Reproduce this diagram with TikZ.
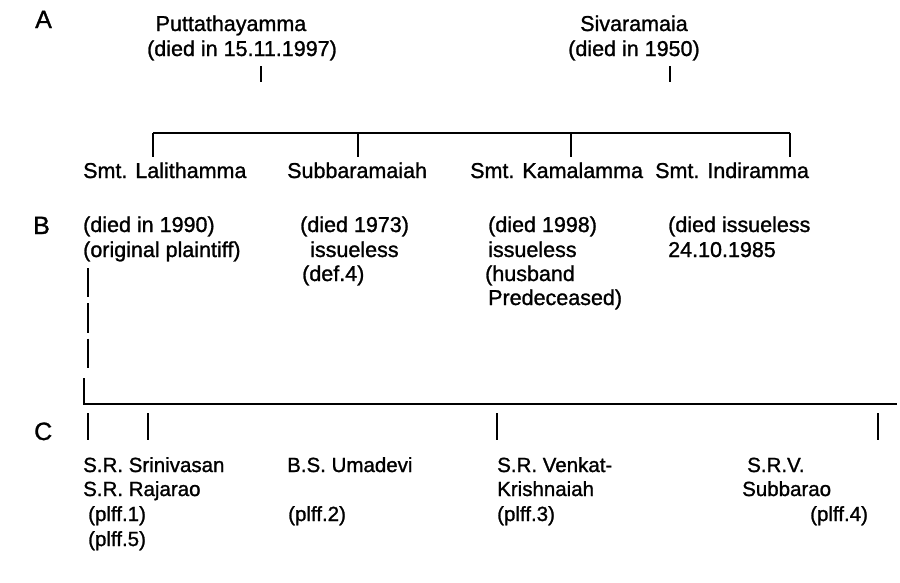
\documentclass[tikz,border=0pt]{standalone}
\usepackage{fontspec}
\setmainfont{Liberation Sans}[FakeBold=1.2]
\begin{document}
\begin{tikzpicture}[x=1pt,y=-1pt,
  lbl/.style={inner sep=0pt, anchor=base west, font=\fontsize{21.5}{25}\selectfont},
  lblc/.style={inner sep=0pt, anchor=base west, font=\fontsize{20.5}{24}\selectfont},
  ctr/.style={inner sep=0pt, anchor=base, font=\fontsize{21.5}{25}\selectfont},
  gen/.style={inner sep=0pt, anchor=base west, font=\fontsize{25}{28}\selectfont},
  rule/.style={line width=1.6pt},
  dashrule/.style={line width=1.6pt, dash pattern=on 29.3pt off 6pt}]
\useasboundingbox (0,0) rectangle (900,582);
% generation letters
\node[gen] (gA) at (35,28) {A};
\node[gen] (gB) at (33,234) {B};
\node[gen] (gC) at (34,440) {C};
% parents
\node[ctr] (put) at (231,31) {Puttathayamma};
\node[ctr] (putd) at (242,56) {(died in 15.11.1997)};
\node[ctr] (siv) at (634,31) {Sivaramaia};
\node[ctr] (sivd) at (634,56) {(died in 1950)};
\coordinate (t1a) at (261,66); \coordinate (t1b) at (261,82);
\coordinate (t2a) at (670,66); \coordinate (t2b) at (670,82);
\draw[rule] (t1a) -- (t1b);
\draw[rule] (t2a) -- (t2b);
% sibling line
\coordinate (h1) at (153,133); \coordinate (h2) at (358,133);
\coordinate (h3) at (571,133); \coordinate (h4) at (790,133);
\draw[rule] (h1) -- (h4);
\foreach \c in {h1,h2,h3,h4} \draw[rule] (\c) -- ++(0,24);
% children
\node[lbl] (lal) at (83,178) {Smt. Lalithamma};
\node[lbl] (sub) at (287,178) {Subbaramaiah};
\node[lbl] (kam) at (470,178) {Smt. Kamalamma};
\node[lbl] (ind) at (655,178) {Smt. Indiramma};
% B row notes
\node[lbl] (lal1) at (83,232) {(died in 1990)};
\node[lbl] (lal2) at (83,257) {(original plaintiff)};
\node[lbl] (sub1) at (300,232) {(died 1973)};
\node[lbl] (sub2) at (310,257) {issueless};
\node[lbl] (sub3) at (302,281) {(def.4)};
\node[lbl] (kam1) at (488,232) {(died 1998)};
\node[lbl] (kam2) at (488,257) {issueless};
\node[lbl] (kam3) at (485,281) {(husband};
\node[lbl] (kam4) at (488,305) {Predeceased)};
\node[lbl] (ind1) at (668,232) {(died issueless};
\node[lbl] (ind2) at (668,257) {24.10.1985};
% descent line from Lalithamma
\coordinate (d1) at (88,268); \coordinate (d2) at (88,368);
\draw[dashrule] (d1) -- (d2);
\coordinate (L1) at (84,378); \coordinate (L2) at (84,404); \coordinate (L3) at (897,404);
\draw[rule] (L1) -- (L2) -- (L3);
% C row ticks
\coordinate (k1) at (88,413); \coordinate (k2) at (148,413);
\coordinate (k3) at (497,413); \coordinate (k4) at (878,413);
\foreach \c in {k1,k2,k3,k4} \draw[rule] (\c) -- ++(0,27);
% C row names
\node[lblc] (sr1) at (83,472) {S.R. Srinivasan};
\node[lblc] (sr2) at (83,496) {S.R. Rajarao};
\node[lblc] (sr3) at (88,521) {(plff.1)};
\node[lblc] (sr4) at (88,546) {(plff.5)};
\node[lblc] (um1) at (287,472) {B.S. Umadevi};
\node[lblc] (um2) at (288,521) {(plff.2)};
\node[lblc] (vk1) at (497,472) {S.R. Venkat-};
\node[lblc] (vk2) at (497,496) {Krishnaiah};
\node[lblc] (vk3) at (497,521) {(plff.3)};
\node[lblc] (sv1) at (747,472) {S.R.V.};
\node[lblc] (sv2) at (742,496) {Subbarao};
\node[lblc] (sv3) at (810,521) {(plff.4)};
\end{tikzpicture}
\end{document}
